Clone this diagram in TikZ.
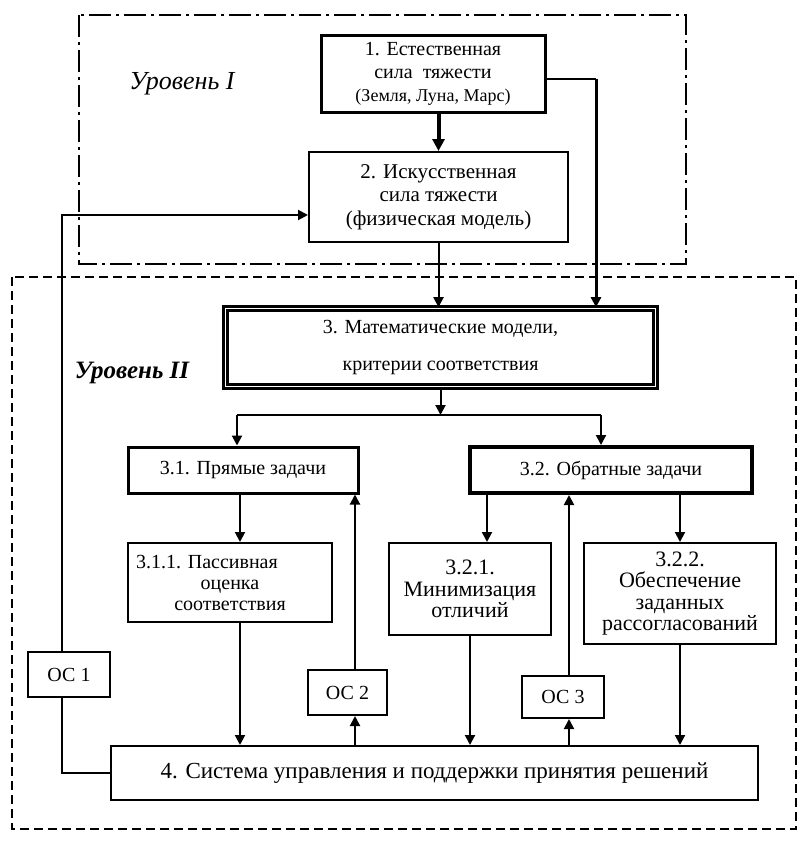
\documentclass[tikz,border=0pt]{standalone}
\usepackage{fontspec}
\setmainfont{Liberation Serif}
\usepackage{tikz}
\usetikzlibrary{arrows.meta}

\newcommand{\boxtxt}{\fontsize{10}{11.5}\selectfont}
\newcommand{\subtxt}{\fontsize{11}{10.75}\selectfont}

\begin{document}
\begin{tikzpicture}[x=0.5pt, y=-0.5pt,
    box/.style={draw, line width=1pt, align=center, inner sep=0pt, font=\boxtxt},
    arr/.style={-{Triangle[length=5pt,width=5pt]}, line width=1pt},
    level/.style={font=\fontsize{13}{15}\selectfont\itshape}]

    \useasboundingbox (0,0) rectangle (812,841);

    % Level frames
    \draw[line width=1pt, dash pattern=on 11pt off 2.5pt on 1.5pt off 2.5pt] (79,15) rectangle (686,264);
    \draw[line width=1pt, dash pattern=on 4.5pt off 2.5pt] (12,277) rectangle (796,829);
    \node[level] (lev1) at (182,84) {Уровень I};
    \node[level, font=\fontsize{12.5}{15}\selectfont\bfseries\itshape] (lev2) at (132,373) {Уровень II};

    % Level I: gravity
    \node[box, line width=1.5pt, minimum width=112pt, minimum height=38.5pt] (b1) at (433,73.5)
        {1. Естественная\\сила \ тяжести\\{\fontsize{9}{11}\selectfont (Земля, Луна, Марс)}};
    \node[box, minimum width=129.5pt, minimum height=45pt, font=\fontsize{10.5}{11.75}\selectfont] (b2) at (438.5,197)
        {2. Искусственная\\сила тяжести\\(физическая модель)};

    % Level II: models
    \node[box, double, double distance=0.8pt, line width=1.3pt, minimum width=215pt, minimum height=39pt] (b3) at (440.5,347.5)
        {3. Математические модели,\\[7pt]критерии соответствия};
    \node[box, line width=1.5pt, minimum width=115pt, minimum height=23pt] (b31) at (243,470) {3.1. Прямые задачи};
    \node[box, line width=2pt, minimum width=141pt, minimum height=23pt] (b32) at (611,470) {3.2. Обратные задачи};

    \node[box, minimum width=102pt, minimum height=39.5pt, font=\fontsize{10}{10.5}\selectfont] (b311) at (230,582.5)
        {3.1.1. Пассивная\hspace*{23pt}\\оценка\\соответствия};
    \node[box, minimum width=81pt, minimum height=46pt, font=\subtxt] (b321) at (470,589)
        {3.2.1.\\Минимизация\\отличий};
    \node[box, minimum width=96pt, minimum height=50.5pt, font=\subtxt] (b322) at (680,593.5)
        {3.2.2.\\Обеспечение\\заданных\\рассогласований};

    % Feedback blocks
    \node[box, minimum width=41pt, minimum height=22.5pt] (oc1) at (69,674.5) {ОС 1};
    \node[box, minimum width=39.5pt, minimum height=22.5pt] (oc2) at (347.5,692.5) {ОС 2};
    \node[box, minimum width=41pt, minimum height=21pt] (oc3) at (563,697) {ОС 3};

    \node[box, minimum width=323.5pt, minimum height=27pt, font=\fontsize{11.5}{13}\selectfont] (b4) at (434.5,773)
        {4. Система управления и поддержки принятия решений};

    % Bend points
    \coordinate (r1) at (596,79);
    \coordinate (fb) at (62,215);
    \coordinate (sp1) at (237,415);
    \coordinate (sp2) at (601,415);
    \coordinate (xa) at (240,0);
    \coordinate (xb) at (355,0);
    \coordinate (xd) at (487,0);
    \coordinate (xe) at (569,0);

    % Arrows, top part
    \draw[arr, line width=2pt, -{Triangle[length=6pt,width=6pt]}] (b1.south -| b2.north) -- (b2.north);
    \draw[line width=0.75pt] (r1 -| b1.east) -- (r1);
    \draw[arr, line width=1.5pt] (r1) -- (r1 |- b3.north);
    \draw[arr] (b2.south) -- (b2.south |- b3.north);
    \draw[arr] (oc1.north -| fb) -- (fb) -- (fb -| b2.west);
    \draw[line width=1pt] (oc1.south -| fb) |- (b4.west);

    % Split to 3.1 and 3.2
    \draw[arr] (b3.south) -- (b3.south |- sp1);
    \draw[line width=1pt] (sp1) -- (sp2);
    \draw[arr] (sp1) -- (sp1 |- b31.north);
    \draw[arr] (sp2) -- (sp2 |- b32.north);

    % Down to subtasks
    \draw[arr] (b31.south -| xa) -- (xa |- b311.north);
    \draw[arr] (b32.south -| xd) -- (xd |- b321.north);
    \draw[arr] (b32.south -| b322.north) -- (b322.north);

    % Down to block 4
    \draw[arr] (b311.south -| xa) -- (xa |- b4.north);
    \draw[arr] (b321.south) -- (b321.south |- b4.north);
    \draw[arr] (b322.south) -- (b322.south |- b4.north);

    % Feedback loops 2 and 3
    \draw[arr] (b4.north -| xb) -- (xb |- oc2.south);
    \draw[arr] (oc2.north -| xb) -- (xb |- b31.south);
    \draw[arr] (b4.north -| xe) -- (xe |- oc3.south);
    \draw[arr] (oc3.north -| xe) -- (xe |- b32.south);

\end{tikzpicture}
\end{document}
